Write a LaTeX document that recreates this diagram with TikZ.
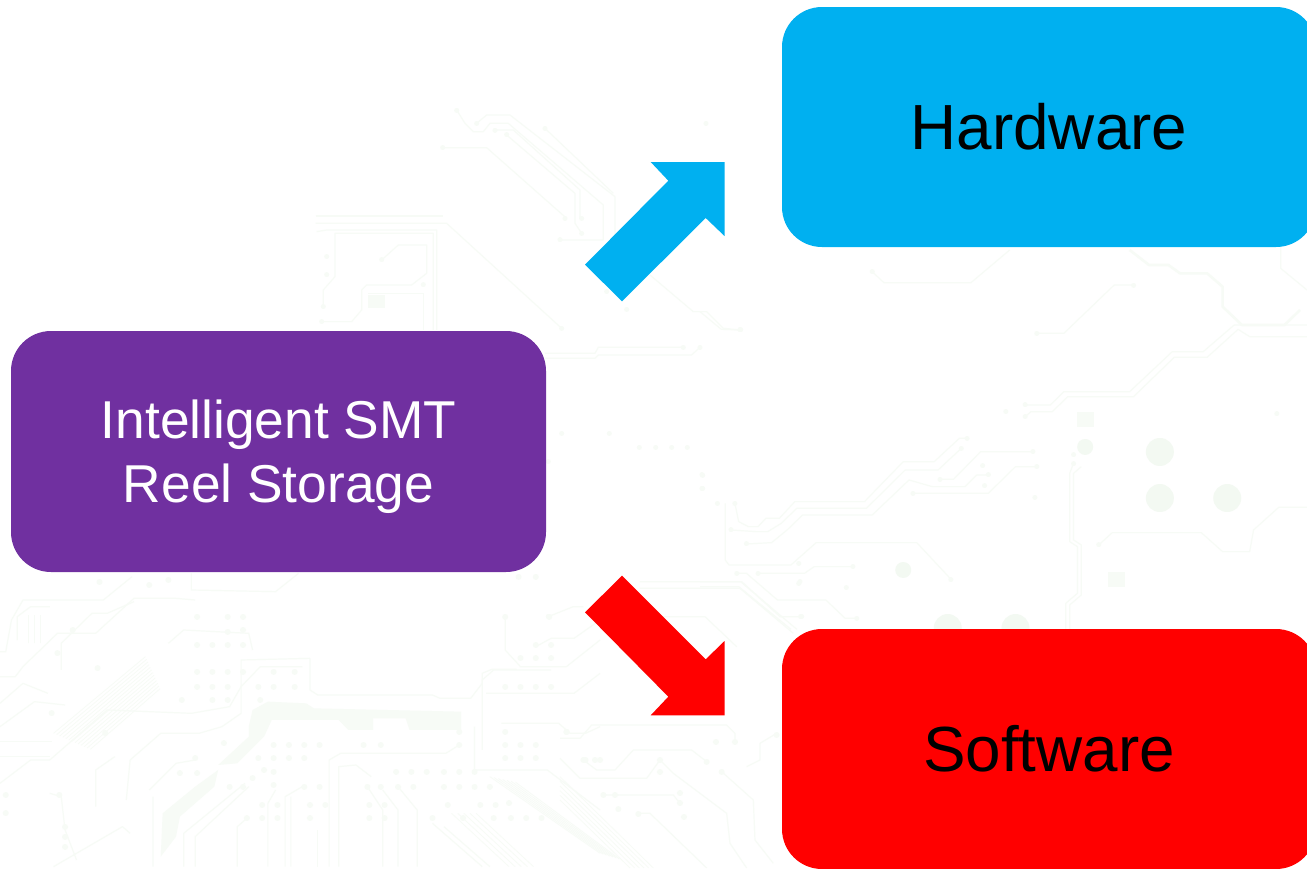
\documentclass[tikz,border=0pt]{standalone}
\usepackage{fontspec}
\setmainfont{Liberation Sans}
\definecolor{trace}{HTML}{F7FBF6}
\definecolor{pad}{HTML}{F7FBF6}
\definecolor{padbig}{HTML}{F3F9F2}
\definecolor{boxpurple}{HTML}{7030A0}
\definecolor{boxblue}{HTML}{00B0F0}
\definecolor{boxred}{HTML}{FF0000}
\newcommand\pads[3][pad]{\foreach \p in {#3}{\draw[line width=#2,line cap=round,#1] \p -- ++(0.02,0);}}
\tikzset{
  trc/.style={draw=trace,line width=1.2pt,line join=round},
  trcthick/.style={draw=trace,line width=2.6pt,line join=round},
  blob/.style={fill=pad,draw=none},
  bigbox/.style={rounded corners=40pt,minimum width=534pt,minimum height=240pt,inner sep=0pt,align=center},
  blockarrow/.style={draw=none}
}
\begin{document}
\begin{tikzpicture}[x=1pt,y=-1pt]
\useasboundingbox (0,0) rectangle (1307,868);
\clip (0,0) rectangle (1307,868);
\fill[white] (0,0) rectangle (1307,868);

% ---- faint circuit board background, upper centre
\begin{scope}[shift={(300,90)},scale=0.3333]
\draw[trc] (428,173)--(560,173)--(800,385);
\draw[trc] (530,100)--(560,75)--(630,75)--(945,320)--(945,450);
\draw[trc] (470,60)--(495,100)--(520,125)--(550,125)--(570,100)--(625,100)--(910,345)--(910,450)--(780,450);
\draw[trc] (585,120)--(640,120)--(840,300)--(840,385);
\draw[trc] (620,135)--(825,310)--(825,400)--(845,430);
\draw[trc] (735,115)--(940,310);
\draw[trc] (47,400)--(440,400)--(785,715);
\draw[trc] (47,378)--(430,378);
\draw[trc] (70,650)--(70,600)--(105,560)--(105,430)--(400,430)--(400,720);
\draw[trc] (50,425)--(80,420)--(410,420)--(410,720);
\draw[trc] (245,510)--(295,465)--(380,465)--(380,550)--(335,585)--(200,585)--(185,600)--(185,660)--(155,695)--(65,695);
\draw[trc] (205,610)--(370,610)--(370,720);
\fill[blob] (205,615) rectangle (255,655);
\draw[trc] (1050,555)--(1180,665)--(1220,665)--(1270,715)--(1320,720);
\draw[trc] (735,790)--(885,790)--(895,772)--(1150,772);
\draw[trc] (735,805)--(885,805)--(895,795)--(1175,795)--(1200,772);
\pads{5pt}{(470,60),(530,100),(585,120),(620,135),(735,115),(428,173),(795,385),(845,385),(845,430),(780,450),(80,500),(80,555),(70,650),(65,695),(245,510),(370,585),(785,715),(920,605),(980,658),(1218,100),(1320,720),(1150,772),(1200,772)}
\end{scope}

% ---- right part
\begin{scope}[shift={(700,240)},xscale=0.3871,yscale=0.3333]
\draw[trc] (445,95)--(475,128)--(700,128)--(800,30);
\draw[trc] (870,280)--(940,280)--(1070,135)--(1120,135);
\draw[trcthick] (1110,30)--(1160,75)--(1210,75)--(1240,100)--(1310,100)--(1350,140)--(1350,200)--(1400,255)--(1510,255)--(1550,210);
\draw[trc] (840,495)--(905,495)--(940,455)--(1110,455)--(1220,335)--(1300,335)--(1380,255)--(1568,255);
\draw[trc] (840,530)--(855,515)--(910,515)--(950,470)--(1120,470)--(1225,352)--(1310,352)--(1390,268)--(1420,290)--(1568,290);
\draw[trc] (0,215)--(55,268)--(105,270);
\draw[trc] (965,670)--(955,700)--(955,905)--(975,920)--(975,1060)--(945,1090)--(945,1168);
\draw[trc] (985,680)--(965,700)--(965,900)--(985,915)--(985,1065)--(955,1095)--(955,1168);
\draw[trc] (1030,915)--(1065,878)--(1295,878)--(1350,935)--(1420,935)--(1430,870)--(1495,802)--(1568,802);
\draw[trc] (1500,20)--(1500,85)--(1568,150);
\draw[trc] (90,790)--(100,845)--(125,860)--(150,860)--(170,835)--(205,835)--(245,785)--(425,785)--(525,665)--(605,665)--(670,595)--(690,595);
\draw[trc] (80,870)--(145,875)--(175,875)--(210,850)--(250,805)--(430,805)--(530,690)--(615,690)--(675,625);
\draw[trc] (120,912)--(185,908)--(225,870)--(265,825)--(445,825)--(540,720)--(600,740)--(685,740)--(715,705)--(750,705);
\draw[trc] (620,718)--(655,718)--(725,635)--(860,635);
\draw[trc] (550,760)--(745,760)--(815,680)--(870,680);
\draw[trc] (65,790)--(65,960)--(75,975)--(235,975)--(300,908)--(560,908)--(650,1020);
\draw[trc] (150,1000)--(270,1000)--(295,980)--(395,980);
\draw[trc] (0,1025)--(105,1025)--(250,1168);
\draw[trc] (0,1040)--(100,1040)--(235,1168);
\draw[trc] (95,1000)--(120,1000)--(200,1080)--(325,1080)--(375,1135)--(405,1135);
\fill[blob] (975,515) rectangle (1018,560);
\fill[blob] (1053,995) rectangle (1097,1040);
\pads{5pt}{(840,495),(840,530),(790,515),(1490,522),(690,595),(675,625),(730,678),(745,705),(735,738),(620,718),(550,760),(860,635),(870,680),(865,772),(965,645),(965,672),(1030,915),(90,790),(45,790),(80,870),(120,912),(255,970),(255,1030),(378,1043),(648,1020),(395,980),(95,1000),(150,1000),(405,1135),(260,1130),(5,705),(5,745),(1120,135),(870,280),(105,270),(445,95)}
\pads[padbig]{16pt}{(995,620),(525,990)}
\pads[padbig]{28pt}{(1188,635),(1188,775),(1362,775),(640,1165),(815,1165)}
\end{scope}

% ---- middle, just right of the purple box
\begin{scope}[shift={(540,400)},scale=0.3333]
\draw[trc] (300,545)--(605,545)--(720,650)--(785,650);
\draw[trc] (300,565)--(600,565)--(760,700);
\draw[trc] (25,650)--(100,620)--(130,620);
\draw[trc] (300,650)--(495,650)--(590,740);
\pads{5pt}{(65,100),(208,100),(298,142),(347,142),(395,142),(442,142),(488,225),(488,265),(25,185),(25,650),(780,545),(785,650)}
\end{scope}

% ---- lower left
\begin{scope}[shift={(0,570)},xscale=0.3827,yscale=0.3333]
\draw[trc] (0,245)--(15,245)--(30,150)--(60,90)--(270,90)--(345,20);
\draw[trc] (0,320)--(40,320)--(60,290)--(150,190)--(250,190)--(350,85)--(460,85)--(510,90);
\draw[trc] (160,300)--(160,220)--(240,130)--(280,130)--(350,95);
\draw[trc] (45,210)--(45,140)--(80,110)--(130,110);
\draw[trc] (75,220)--(75,135) (90,220)--(90,135) (105,220)--(105,135);
\draw[trc] (0,400)--(60,340)--(125,370);
\draw[trc] (0,470)--(90,395)--(170,405);
\draw[trc] (0,515)--(135,515) (0,560)--(130,560);
\draw[trc] (0,640)--(80,570)--(130,570)--(280,420)--(500,430)--(600,410)--(630,350)--(630,270)--(810,265);
\draw[trc] (810,265)--(810,360)--(830,375)--(1130,375)--(1150,385)--(1230,385)--(1260,340)--(1260,310)--(1285,298)--(1350,298);
\draw[trc] (790,290)--(680,290)--(630,350)--(630,430)--(580,470)--(520,490)--(420,490)--(340,570)--(330,690);
\draw[trc] (500,10)--(500,60)--(720,65)--(780,10);
\draw[trc] (440,220)--(480,180)--(650,190)--(660,240);
\draw[trc] (390,660)--(460,580)--(510,570);
\draw[trc] (400,890)--(400,680) (480,890)--(480,790)--(640,640) (510,890)--(510,800)--(650,650);
\draw[trc] (130,670)--(160,680)--(170,780)--(200,870);
\draw[trc] (250,710)--(250,600)--(300,560);
\draw[trc] (140,890)--(320,770)--(340,790);
\draw[trc] (620,890)--(620,770)--(650,740);
\draw[trc] (700,890)--(700,700)--(720,660);
\draw[trc] (745,890)--(745,680)--(790,650) (760,890)--(760,680);
\draw[trc] (830,890)--(830,780);
\draw[trc] (860,890)--(860,570)--(890,550)--(1165,550)--(1200,525);
\draw[trc] (885,890)--(885,590)--(930,585)--(970,620);
\draw[trc] (1000,890)--(1000,720)--(960,650) (1040,890)--(1040,720)--(1000,660) (1090,890)--(1090,720)--(1040,650);
\draw[trc] (1130,760)--(1260,890) (1160,770)--(1280,890);
\draw[trc] (1240,600)--(1240,470) (1260,540)--(1260,330)--(1290,300)--(1440,300);
\draw[trc] (1320,140)--(1320,240)--(1360,290)--(1480,290)--(1568,210);
\draw[trc] (1400,230)--(1440,205)--(1500,205)--(1568,150);
\draw[trc] (1310,460)--(1460,460)--(1490,490)--(1530,490)--(1568,470);
\draw[trc] (1270,370)--(1500,370)--(1568,310);
\draw[trc] (1240,600)--(1430,600)--(1568,720);
\foreach \d in {0,8,...,96}{\draw[trc,line width=.8pt] ({140+\d},{490+\d*.5})--({380+\d*.4},{260+\d});}
\foreach \d in {0,14,...,84}{\draw[trc,line width=.8pt] ({1280+\d*.8},{620+\d*.2})--({1568+\d*.6},{850+\d*.2});}
\foreach \d in {0,16,...,64}{\draw[trc,line width=.8pt] ({1180+\d},{730})--({1330+\d},{890});}
\fill[blob] (650,470)--(660,420)--(700,395)--(800,400)--(820,415)--(1205,425)--(1205,480)--(1070,480)--(1060,445)--(975,445)--(975,480)--(910,480)--(885,450)--(710,450)--(690,500)--(620,580)--(570,585)--(650,500)--cycle;
\fill[blob] (425,730)--(510,650)--(570,600)--(560,650)--(470,740)--(460,800)--(420,860)--cycle;
\pads{6pt}{(515,305),(555,305),(595,305),(635,305),(515,350),(555,350),(595,350),(475,390),(555,390),(595,390),(715,305),(770,305),(675,350),(715,350),(770,350),(680,390),(715,525),(755,525),(795,525),(835,525),(950,525),(995,525),(675,565),(715,565),(755,565),(795,565),(690,600),(715,605),(715,645),(600,650),(635,650),(660,625),(470,610),(515,610),(510,565),(585,520),(1035,605),(1075,605),(1115,605),(1160,605),(1200,605),(1240,605),(960,650),(995,650),(1040,650),(1080,650),(1160,650),(1200,650),(1240,650),(1280,650),(795,650),(835,650),(685,705),(725,705),(810,705),(850,705),(965,705),(1005,705),(1170,705),(1255,705),(1295,705),(1330,700),(645,745),(685,745),(725,745),(810,745),(965,745),(1005,745),(1130,745),(1210,745),(1290,745),(1335,745),(1375,745),(1415,745),(515,225),(555,225),(595,225),(635,225),(595,140),(635,140),(515,140),(595,185),(635,180),(260,35),(390,45),(440,30),(1355,20),(1400,20),(1320,140),(1435,140),(1400,225),(1440,225),(1360,265),(1400,265),(1440,265),(1320,350),(1360,350),(1400,350),(1440,350),(1320,485),(1480,485),(1320,525),(1360,525),(1400,525),(1320,565),(1360,565),(1400,565),(1530,570),(1568,570),(170,770),(170,800),(170,830),(275,490),(135,430),(15,675),(15,730),(155,675),(150,250),(255,295),(190,180),(1200,485),(1200,525)}
\end{scope}

% ---- lower middle
\begin{scope}[shift={(560,700)},scale=0.3333]
\draw[trc] (0,115)--(60,115)--(95,75)--(500,75)--(525,100)--(525,125);
\draw[trc] (70,180)--(110,210)--(165,210)--(220,150)--(395,150)--(440,185);
\draw[trc] (0,175)--(60,235)--(260,235)--(300,180)--(340,220)--(500,340)--(510,430)--(560,504);
\draw[trc] (130,285)--(340,285)--(360,310);
\draw[trc] (235,340)--(270,340)--(440,504);
\draw[trc] (485,215)--(580,300)--(585,420)--(640,490);
\draw[trc] (560,200)--(600,180)--(600,130)--(650,100);
\foreach \d in {0,14,...,70}{\draw[trc,line width=.8pt] (0,{230+\d})--({280-\d},504);}
\pads{6pt}{(20,95),(70,180),(105,180),(130,285),(165,285),(175,328),(235,342),(300,180),(300,215),(360,280),(360,310),(372,350),(440,185),(468,125),(525,125),(485,215),(650,105)}
\end{scope}

% ---- boxes
\node[bigbox,fill=boxblue,text=black,font=\fontsize{63.8}{76}\selectfont] (hw) at (1049,127) {Hardware};
\node[bigbox,fill=boxred,text=black,font=\fontsize{63.8}{76}\selectfont] (sw) at (1049,749) {Software};
\node[bigbox,minimum width=535pt,minimum height=241pt,fill=boxpurple,text=white,text depth=0pt,font=\fontsize{53.3}{64}\selectfont] (smt) at (278.5,451.5) {Intelligent SMT\\Reel Storage};

% ---- block arrows
\fill[boxblue,blockarrow] (724.5,162)--(650.7,162)--(668.3,180.7)--(585,264.7)--(622,301.3)--(705.7,218)--(724.5,236)--cycle;
\fill[boxred,blockarrow] (724.5,715.3)--(650.7,715.3)--(668.3,696.7)--(585,612.3)--(622,575.7)--(705.7,659.3)--(724.5,641)--cycle;
\end{tikzpicture}
\end{document}
